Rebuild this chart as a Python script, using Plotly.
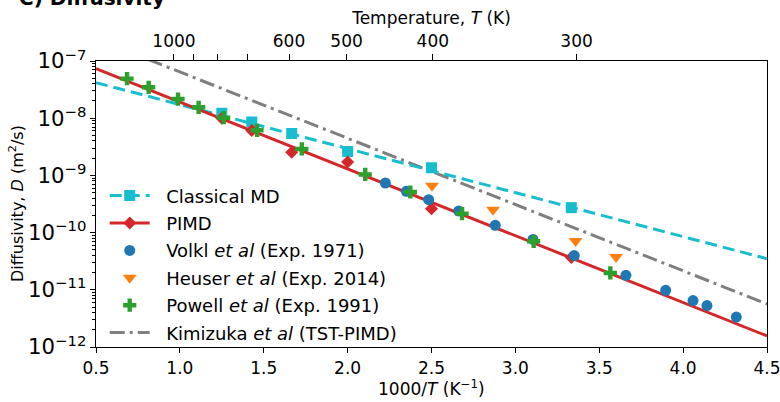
import plotly.graph_objects as go

# ---------------- data ----------------
md_T = [800, 700, 600, 500, 400, 300]
md_D = [1.22e-8, 8.6e-9, 5.4e-9, 2.62e-9, 1.36e-9, 2.73e-10]
md_fit_x = [0.5, 4.5]
md_fit_D = [4.19e-8, 3.5e-11]

pimd_T = [800, 700, 600, 500, 400, 300]
pimd_D = [1.0e-8, 6.1e-9, 2.54e-9, 1.71e-9, 2.6e-10, 3.66e-11]
pimd_fit_x = [0.5, 4.5]
pimd_fit_D = [7.36e-8, 1.56e-12]

volkl_x = [2.225, 2.35, 2.483, 2.662, 2.88, 3.105, 3.351, 3.659, 3.896, 4.059, 4.142, 4.317]
volkl_D = [7.36e-10, 5.27e-10, 3.77e-10, 2.39e-10, 1.34e-10, 7.6e-11, 3.96e-11,
           1.79e-11, 9.8e-12, 6.47e-12, 5.29e-12, 3.34e-12]

heuser_x = [2.503, 2.867, 3.359, 3.600]
heuser_D = [6.6e-10, 2.52e-10, 7.1e-11, 3.74e-11]

powell_x = [0.685, 0.814, 0.989, 1.112, 1.261, 1.46, 1.727, 2.105, 2.374, 2.682, 3.109, 3.566]
powell_D = [4.92e-8, 3.47e-8, 2.16e-8, 1.55e-8, 1.02e-8, 6.14e-9, 2.9e-9, 1.04e-9,
            5.13e-10, 2.15e-10, 7.05e-11, 1.97e-11]

kimi_x = [0.5, 4.5]
kimi_D = [2.44e-7, 5.65e-12]

x_ticks = [0.5, 1.0, 1.5, 2.0, 2.5, 3.0, 3.5, 4.0, 4.5]
x_labels = ["0.5", "1.0", "1.5", "2.0", "2.5", "3.0", "3.5", "4.0", "4.5"]
top_T_labeled = [1000, 600, 500, 400, 300]
top_labels = ["1000", "600", "500", "400", "300"]
top_T_unlabeled = [900, 800, 700]
top_range = [0.548, 4.437]

# ---------------- styles ----------------
FONT = "DejaVu Sans"
C_MD, C_PI, C_VO, C_HE, C_PO, C_KI = "#17becf", "#d62728", "#1f77b4", "#ff7f0e", "#2ca02c", "#7f7f7f"
MD_DASH = "12px,6px"
KI_DASH = "15px,5px,3px,5px"
NB = "\u00a0\u00a0"

md_x = [1000.0 / t for t in md_T]
pimd_x = [1000.0 / t for t in pimd_T]

fig = go.Figure()

# lines
fig.add_trace(go.Scatter(x=kimi_x, y=kimi_D, mode="lines", showlegend=False,
                         line=dict(color=C_KI, width=3, dash=KI_DASH)))
fig.add_trace(go.Scatter(x=md_fit_x, y=md_fit_D, mode="lines", showlegend=False,
                         line=dict(color=C_MD, width=3, dash=MD_DASH)))
fig.add_trace(go.Scatter(x=pimd_fit_x, y=pimd_fit_D, mode="lines", showlegend=False,
                         line=dict(color=C_PI, width=3)))
# markers
fig.add_trace(go.Scatter(x=md_x, y=md_D, mode="markers", showlegend=False,
                         marker=dict(symbol="square", size=11, color=C_MD)))
fig.add_trace(go.Scatter(x=pimd_x, y=pimd_D, mode="markers", showlegend=False,
                         marker=dict(symbol="diamond", size=10, color=C_PI)))
fig.add_trace(go.Scatter(x=volkl_x, y=volkl_D, mode="markers", showlegend=False,
                         marker=dict(symbol="circle", size=11, color=C_VO)))
fig.add_trace(go.Scatter(x=heuser_x, y=heuser_D, mode="markers", showlegend=False,
                         marker=dict(symbol="triangle-down", size=12, color=C_HE)))
fig.add_trace(go.Scatter(x=powell_x, y=powell_D, mode="markers", showlegend=False,
                         marker=dict(symbol="cross", size=11, color=C_PO)))

# legend entries
leg = [
    dict(mode="lines+markers", name="Classical MD",
         line=dict(color=C_MD, width=3, dash=MD_DASH),
         marker=dict(symbol="square", size=11, color=C_MD)),
    dict(mode="lines+markers", name="PIMD",
         line=dict(color=C_PI, width=3),
         marker=dict(symbol="diamond", size=10, color=C_PI)),
    dict(mode="markers", name="Volkl <i>et al</i> (Exp. 1971)",
         marker=dict(symbol="circle", size=11, color=C_VO)),
    dict(mode="markers", name="Heuser <i>et al</i> (Exp. 2014)",
         marker=dict(symbol="triangle-down", size=12, color=C_HE)),
    dict(mode="markers", name="Powell <i>et al</i> (Exp. 1991)",
         marker=dict(symbol="cross", size=11, color=C_PO)),
    dict(mode="lines", name="Kimizuka <i>et al</i> (TST-PIMD)",
         line=dict(color=C_KI, width=3, dash=KI_DASH)),
]
for i, d in enumerate(leg):
    d["name"] = NB + d["name"]
    fig.add_trace(go.Scatter(x=[None], y=[None], legendgroup="g%d" % i, **d))

# invisible traces to anchor top axes
fig.add_trace(go.Scatter(x=[1000.0 / t for t in top_T_labeled], y=[1e-10] * len(top_T_labeled),
                         xaxis="x2", mode="markers", marker=dict(opacity=0),
                         showlegend=False, hoverinfo="skip"))
fig.add_trace(go.Scatter(x=[1000.0 / t for t in top_T_unlabeled], y=[1e-10] * len(top_T_unlabeled),
                         xaxis="x3", mode="markers", marker=dict(opacity=0),
                         showlegend=False, hoverinfo="skip"))

tick_common = dict(ticks="outside", tickwidth=1.2, tickcolor="black",
                   showgrid=False, zeroline=False, automargin=False)

fig.update_layout(
    width=780, height=402,
    margin=dict(l=96, r=13, t=61, b=55, autoexpand=False),
    paper_bgcolor="white", plot_bgcolor="white",
    font=dict(family=FONT, size=17, color="black"),
    xaxis=dict(range=[0.5, 4.5], tickmode="array", tickvals=x_ticks, ticktext=x_labels,
               ticklen=5, showline=True, linecolor="black", linewidth=1.3, mirror=True,
               ticklabeloverflow="allow",
               **tick_common),
    xaxis2=dict(overlaying="x", side="top", anchor="y", range=top_range,
                tickmode="array", tickvals=[1000.0 / t for t in top_T_labeled], ticktext=top_labels,
                ticklen=6, showline=False, ticklabeloverflow="allow",
                title=dict(text="Temperature, <i>T</i> (K)", standoff=2, font=dict(size=17)),
                **tick_common),
    xaxis3=dict(overlaying="x", side="top", anchor="y", range=top_range,
                tickmode="array", tickvals=[1000.0 / t for t in top_T_unlabeled],
                showticklabels=False, ticklen=6, showline=False, **tick_common),
    yaxis=dict(type="log", range=[-12, -7], dtick=1, exponentformat="power",
               ticklen=5, ticklabeloverflow="allow",
               minor=dict(ticks="outside", ticklen=3, tickwidth=1, tickcolor="black",
                          dtick="D1", showgrid=False),
               showline=True, linecolor="black", linewidth=1.3, mirror=True,
               **tick_common),
    legend=dict(x=0.013, y=0.593, xanchor="left", yanchor="top",
                bgcolor="rgba(0,0,0,0)", borderwidth=0, itemwidth=40,
                font=dict(size=18, family=FONT), tracegroupgap=1, traceorder="grouped"),
    showlegend=True,
)
plot_w = 780 - 96 - 13
plot_h = 402 - 61 - 55
# axis titles placed in pixel terms
fig.add_annotation(text="Diffusivity, <i>D</i> (m<sup>2</sup>/s)", textangle=-90,
                   x=(16 - 96) / plot_w, y=0.5, xref="paper", yref="paper",
                   xanchor="center", yanchor="middle", showarrow=False,
                   font=dict(size=16, family=FONT))
fig.add_annotation(text="1000/<i>T</i> (K<sup>−1</sup>)",
                   x=0.5, y=-(388 - 346.7) / plot_h, xref="paper", yref="paper",
                   xanchor="center", yanchor="middle", showarrow=False,
                   font=dict(size=17, family=FONT))
fig.add_annotation(text="<b>C) Diffusivity</b>", x=(17 - 96) / plot_w, y=1 + (61 + 2) / plot_h,
                   xref="paper", yref="paper", xanchor="left", yanchor="middle",
                   showarrow=False, font=dict(size=20, family=FONT))

fig.write_html("out.html", config={"displayModeBar": False},
               post_script="document.body.style.margin='0';document.body.style.overflow='hidden';")
